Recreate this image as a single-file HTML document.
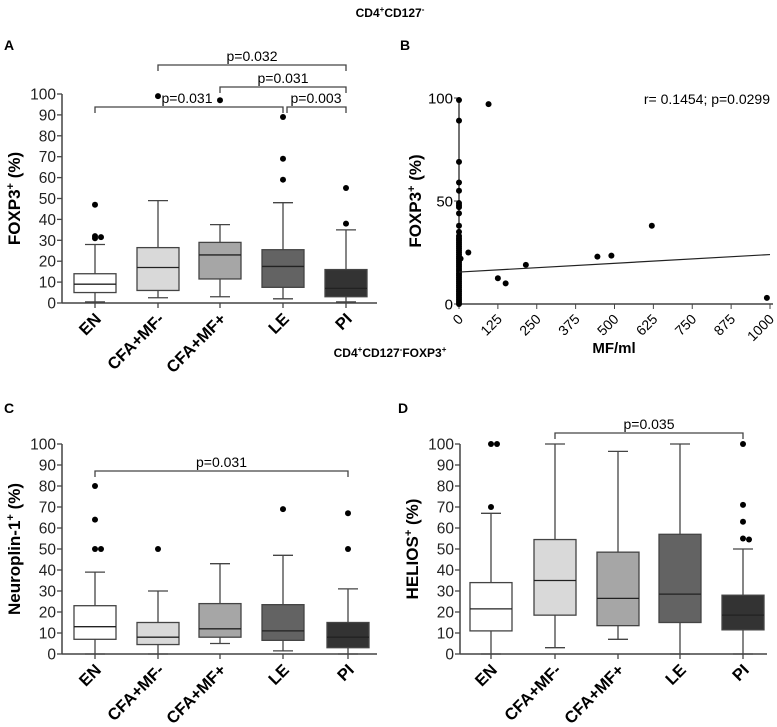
<!DOCTYPE html>
<html><head><meta charset="utf-8"><style>
body{margin:0;background:#fff}
svg{display:block;font-family:"Liberation Sans",Arial,sans-serif}
</style></head><body>
<svg id="s" width="777" height="727" viewBox="0 0 777 727">
<text x="390" y="17" text-anchor="middle" font-size="12" font-weight="bold">CD4<tspan dy="-5" font-size="8">+</tspan><tspan dy="5">CD127</tspan><tspan dy="-5" font-size="8">-</tspan></text>
<text x="390" y="357" text-anchor="middle" font-size="12" font-weight="bold">CD4<tspan dy="-5" font-size="8">+</tspan><tspan dy="5">CD127</tspan><tspan dy="-5" font-size="8">-</tspan><tspan dy="5">FOXP3</tspan><tspan dy="-5" font-size="8">+</tspan></text>
<text x="4" y="50" font-size="14" font-weight="bold">A</text>
<text x="400" y="50" font-size="14" font-weight="bold">B</text>
<text x="4" y="413" font-size="14" font-weight="bold">C</text>
<text x="398" y="413" font-size="14" font-weight="bold">D</text>
</svg>
<script>
const categories=["EN","CFA+MF-","CFA+MF+","LE","PI"];
const fills=["#ffffff","#d9d9d9","#a6a6a6","#636363","#333333"];
const statsA=[[0.5,5,9,14,28],[2.5,6,17,26.5,49],[3,11.5,23,29,37.5],[2,7.5,17.5,25.5,48],[0.5,3,7,16,35]];
const outA=[[47,32,31,31.5],[99],[97],[89,69,59],[55,38]];
const statsC=[[0,7,13,23,39],[0,4.5,8,15,30],[5,8,12,24,43],[1.5,6.5,11,23.5,47],[0,3,8,15,31]];
const outC=[[80,64,50,50],[50],[],[69],[67,50]];
const statsD=[[0,11,21.5,34,67],[3,18.5,35,54.5,100],[7,13.5,26.5,48.5,96.5],[0,15,28.5,57,100],[0,11.5,18.5,28,50]];
const outD=[[100,100,70],[],[],[],[100,71,63,55,54.5]];
const yTicks=[0,10,20,30,40,50,60,70,80,90,100];
const scatterX=[0,0,0,0,0,0,0,0,0,0,0,0,0,0,0,0,0,0,0,0,0,0,0,0,0,0,0,0,0,0,0,0,0,0,0,0,0,0,0,0,0,0,0,0,0,5,30,95,125,150,215,445,490,620,990];
const scatterY=[99,89,69,59,55,49,48,47,44,38,35,33,32,31,30,29,28,27,26,25,24,23,22,21,20,19,18,17,16,15,14,13,12,11,10,9,8,7,6,5,4,3,2,1,0,22,25,97,12.5,10,19,23,23.5,38,3];
const bXTicks=[0,125,250,375,500,625,750,875,1000];
const bYTicks=[0,50,100];
const regression=[[0,15.5],[1000,24]];
const s=document.getElementById('s');
const NS="http://www.w3.org/2000/svg";
function el(t,a,txt){const e=document.createElementNS(NS,t);for(const k in a)e.setAttribute(k,a[k]);if(txt!=null)e.textContent=txt;s.appendChild(e);return e;}
function boxPanel(p,stats,outs,brackets,title){
 const y=v=>p.y0+(p.y1-p.y0)*v/100;
 const x=i=>p.xs[i];
 let e=el('line',{x1:p.ax,y1:p.y0,x2:p.ax,y2:p.y1,stroke:'#444','stroke-width':1.5});
 
 e=el('line',{x1:p.ax,y1:p.y0,x2:p.xe,y2:p.y0,stroke:'#444','stroke-width':1.5});
 
 yTicks.forEach(t=>{el('line',{x1:p.ax-5,y1:y(t),x2:p.ax,y2:y(t),stroke:'#444','stroke-width':1.3});
  e=el('text',{x:p.ax-6,y:y(t)+5.5,'text-anchor':'end','font-size':15.5,fill:'#222'},t);
  });
 categories.forEach((c,i)=>{const st=stats[i];const cx=x(i);
  el('line',{x1:cx,y1:p.y0,x2:cx,y2:p.y0+5,stroke:'#444','stroke-width':1.3});
  e=el('line',{x1:cx,y1:y(st[0]),x2:cx,y2:y(st[4]),stroke:'#444','stroke-width':1.3});
  
  el('line',{x1:cx-10,y1:y(st[0]),x2:cx+10,y2:y(st[0]),stroke:'#444','stroke-width':1.3});
  el('line',{x1:cx-10,y1:y(st[4]),x2:cx+10,y2:y(st[4]),stroke:'#444','stroke-width':1.3});
  e=el('rect',{x:cx-21,y:y(st[3]),width:42,height:y(st[1])-y(st[3]),fill:fills[i],stroke:'#444','stroke-width':1.3});
  
  el('line',{x1:cx-21,y1:y(st[2]),x2:cx+21,y2:y(st[2]),stroke:'#222','stroke-width':1.3});
  const o=outs[i];const seen={};
  o.forEach(v=>{const k=Math.round(v/3);const n=seen[k]||0;seen[k]=n+1;
   const off=n===0?0:(n%2?6:-6);
   e=el('circle',{cx:cx+off,cy:y(v),r:3,fill:'#000'});
   });
  e=el('text',{x:0,y:0,'text-anchor':'end','font-size':16.5,'font-weight':'bold',transform:`translate(${cx+7},${p.y0+17}) rotate(-45)`},c);
  
 });
 brackets.forEach(b=>{const x1=x(b[0])+(b[4]||0),x2=x(b[1]);
  e=el('path',{d:`M${x1} ${b[2]+6}V${b[2]}H${x2}V${b[2]+6}`,fill:'none',stroke:'#444','stroke-width':1.3});
  
  e=el('text',{x:b[5]||(x1+x2)/2,y:b[2]-4,'text-anchor':'middle','font-size':14},b[3]);
  });
 const cy=(p.y0+p.y1)/2;
 e=el('text',{x:0,y:0,'text-anchor':'middle','font-size':17,'font-weight':'bold',transform:`translate(${p.ax-42},${cy}) rotate(-90)`});
 
 e.innerHTML=title+'<tspan dy="-6" font-size="11">+</tspan><tspan dy="6"> (%)</tspan>';
}
boxPanel({ax:62,xe:377,y0:303,y1:94,xs:[95,158,220,283,346]},statsA,outA,
 [[1,4,65,'p=0.032'],[2,4,87,'p=0.031'],[0,3,107,'p=0.031',0,187],[3,4,107,'p=0.003',4,316]],'FOXP3');
boxPanel({ax:62,xe:377,y0:654,y1:444,xs:[95,158,220,283,348]},statsC,outC,[[0,4,471,'p=0.031']],'Neuroplin-1');
boxPanel({ax:460,xe:767,y0:654,y1:444,xs:[491,555,618,680,743]},statsD,outD,[[1,4,433,'p=0.035']],'HELIOS');
const B={x0:459,x1:770,y0:304,y1:98};
const bx=v=>B.x0+(B.x1-B.x0)*v/1000, by=v=>B.y0+(B.y1-B.y0)*v/100;
let e=el('line',{x1:B.x0,y1:B.y0,x2:B.x0,y2:B.y1,stroke:'#444','stroke-width':1.5});

e=el('line',{x1:B.x0,y1:B.y0,x2:B.x1+3,y2:B.y0,stroke:'#444','stroke-width':1.5});

bYTicks.forEach(t=>{el('line',{x1:B.x0-5,y1:by(t),x2:B.x0,y2:by(t),stroke:'#444'});
 e=el('text',{x:B.x0-6,y:by(t)+5.5,'text-anchor':'end','font-size':15},t);
 });
bXTicks.forEach(t=>{el('line',{x1:bx(t),y1:B.y0,x2:bx(t),y2:B.y0+5,stroke:'#444'});
 e=el('text',{x:0,y:0,'text-anchor':'end','font-size':14,transform:`translate(${bx(t)+5},${B.y0+16}) rotate(-45)`},t);
 });
scatterX.forEach((v,i)=>{e=el('circle',{cx:bx(v),cy:by(scatterY[i]),r:3,fill:'#000'});
 });
e=el('line',{x1:bx(regression[0][0]),y1:by(regression[0][1]),x2:bx(regression[1][0]),y2:by(regression[1][1]),stroke:'#222','stroke-width':1.2});

e=el('text',{x:770,y:104,'text-anchor':'end','font-size':14},'r= 0.1454; p=0.0299');

e=el('text',{x:614,y:353,'text-anchor':'middle','font-size':15,'font-weight':'bold'},'MF/ml');

e=el('text',{x:0,y:0,'text-anchor':'middle','font-size':17,'font-weight':'bold',transform:`translate(421,201) rotate(-90)`});

e.innerHTML='FOXP3<tspan dy="-6" font-size="11">+</tspan><tspan dy="6"> (%)</tspan>';
</script>
</body></html>
